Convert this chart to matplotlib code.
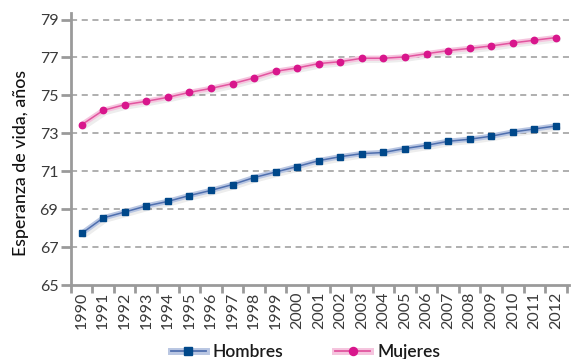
import numpy as np
import matplotlib
matplotlib.use('Agg')
import matplotlib.pyplot as plt
from matplotlib.lines import Line2D

# Datos
anios = list(range(1990, 2013))
hombres = [67.72, 68.54, 68.85, 69.17, 69.41, 69.72, 69.99, 70.30, 70.67, 70.96,
           71.25, 71.56, 71.77, 71.93, 71.99, 72.20, 72.37, 72.58, 72.69, 72.85,
           73.07, 73.23, 73.39]
mujeres = [73.45, 74.21, 74.51, 74.69, 74.90, 75.16, 75.37, 75.62, 75.92, 76.27,
           76.45, 76.68, 76.78, 76.96, 76.96, 77.03, 77.20, 77.36, 77.48, 77.61,
           77.77, 77.91, 78.05]
yticks = [65, 67, 69, 71, 73, 75, 77, 79]

plt.rcParams['font.family'] = ['Lato', 'DejaVu Sans']

fig = plt.figure(figsize=(5.71, 3.59), dpi=100)
ax = fig.add_axes([0.124, 0.206, 0.873, 0.758])

gris = '#9a9a9a'
for y in yticks[1:]:
    ax.axhline(y, color=gris, linestyle=(0, (4, 3)), linewidth=1.1, zorder=1)

series = [
    (hombres, '#00488a', '#4f6fae', '#b9c6e2', 's', 4.2, 'Hombres'),
    (mujeres, '#d8168c', '#e2559f', '#f5c4de', 'o', 4.6, 'Mujeres'),
]
x = np.array(anios)
for vals, cmark, cline, chalo, mk, ms, lab in series:
    v = np.array(vals)
    # sombra suave
    ax.plot(x + 0.12, v - 0.12, color='#000000', alpha=0.07, linewidth=3.5,
            solid_capstyle='round', zorder=2)
    ax.plot(x, v, color=chalo, linewidth=3.8, solid_capstyle='round', zorder=3)
    ax.plot(x, v, color=cline, linewidth=1.1, zorder=4)
    ax.plot(x, v, linestyle='none', marker=mk, markersize=ms,
            color=cmark, zorder=5)

ax.set_xlim(1989.5, 2012.62)
ax.set_ylim(65, 79.35)
ax.set_yticks(yticks)
ax.set_xticks(anios)
ax.set_xticklabels([str(a) for a in anios], rotation=90, fontsize=11.5, color='#3a3a3a')
ax.set_xticks(np.arange(1989.5, 2013, 1.0), minor=True)
ax.tick_params(axis='x', which='major', length=0, pad=5)
ax.tick_params(axis='x', which='minor', length=6, width=2, color=gris, direction='out')
ax.tick_params(axis='y', length=7, width=2, color=gris, labelsize=11.5,
               labelcolor='#3a3a3a', pad=2)

for s in ['top', 'right']:
    ax.spines[s].set_visible(False)
for s in ['left', 'bottom']:
    ax.spines[s].set_color(gris)
    ax.spines[s].set_linewidth(2)

ax.set_ylabel('Esperanza de vida, años', fontsize=12.8, color='#111111',
              fontweight='medium', labelpad=6)
ax.yaxis.set_label_coords(-0.084, 0.45)

handles = []
for vals, cmark, cline, chalo, mk, ms, lab in series:
    handles.append((Line2D([], [], color=chalo, linewidth=5),
                    Line2D([], [], color=cline, linewidth=1.3, marker=mk,
                           markersize=ms + 1.2, markerfacecolor=cmark,
                           markeredgecolor=cmark)))
leg = fig.legend(handles, ['Hombres', 'Mujeres'], loc='center',
                 bbox_to_anchor=(0.535, 0.02), ncol=2, frameon=False,
                 prop={'size': 12.5, 'weight': 'semibold'}, handlelength=2.0,
                 columnspacing=3.0, handletextpad=0.4)
for t in leg.get_texts():
    t.set_color('#1a1a1a')

fig.savefig('out.png', dpi=100)
